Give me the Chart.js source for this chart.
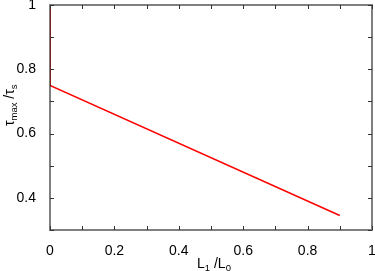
<!DOCTYPE html>
<html>
<head>
<meta charset="utf-8">
<script src="https://cdn.jsdelivr.net/npm/chart.js@4/dist/chart.umd.min.js"></script>
<style>
  html, body { margin: 0; padding: 0; background: #fff; }
  #chart { display: block; }
</style>
</head>
<body>
<canvas id="chart" width="375" height="271"></canvas>
<script>
// data
var ratio_L = [0, 0, 0.9];          // L1 / L0
var ratio_tau = [1, 0.75, 0.345];   // tau_max / tau_s
var x_ticks = [0, 0.2, 0.4, 0.6, 0.8, 1];
var y_ticks = [0.4, 0.6, 0.8, 1];
var x_minor = [0, 0.1, 0.2, 0.3, 0.4, 0.5, 0.6, 0.7, 0.8, 0.9, 1];
var y_minor = [0.3, 0.4, 0.5, 0.6, 0.7, 0.8, 0.9, 1];

var FONT = "'Liberation Sans', Arial, Helvetica, sans-serif";

// frame + inward ticks + axis titles with subscripts
const framePlugin = {
  id: "frame",
  afterDatasetsDraw(chart) {
    const c = chart.ctx;
    const a = chart.chartArea;
    const xs = chart.scales.x, ys = chart.scales.y;
    c.save();
    c.strokeStyle = "rgba(0,0,0,0.5)";
    c.lineWidth = 2;
    c.strokeRect(a.left, a.top, a.right - a.left, a.bottom - a.top);

    c.lineWidth = 1;
    c.strokeStyle = "#333";
    x_minor.forEach(function (v) {
      let px = Math.round(xs.getPixelForValue(v)) + 0.5;
      c.beginPath();
      c.moveTo(px, a.bottom); c.lineTo(px, a.bottom - 4);
      c.moveTo(px, a.top); c.lineTo(px, a.top + 4);
      c.stroke();
    });
    y_minor.forEach(function (v) {
      let py = Math.round(ys.getPixelForValue(v)) + 0.5;
      c.beginPath();
      c.moveTo(a.left, py); c.lineTo(a.left + 4, py);
      c.moveTo(a.right, py); c.lineTo(a.right - 4, py);
      c.stroke();
    });

    // axis titles
    c.fillStyle = "#000";
    c.textBaseline = "alphabetic";
    c.textAlign = "left";
    // x: L1 /L0
    let x0 = 197, y0 = 268;
    c.font = "14px " + FONT;
    c.fillText("L", x0, y0); x0 += c.measureText("L").width;
    c.font = "9.5px " + FONT;
    c.fillText("1", x0, y0 + 3); x0 += c.measureText("1").width;
    c.font = "14px " + FONT;
    c.fillText(" /L", x0, y0); x0 += c.measureText(" /L").width;
    c.font = "9.5px " + FONT;
    c.fillText("0", x0, y0 + 3);

    // y: tau_max /tau_s (rotated)
    c.translate(14, 126);
    c.rotate(-Math.PI / 2);
    let t = 0;
    c.font = "14px " + FONT;
    c.fillText("τ", t, 0); t += c.measureText("τ").width;
    c.font = "9.5px " + FONT;
    c.fillText("max", t, 3); t += c.measureText("max").width;
    c.font = "14px " + FONT;
    c.fillText(" /τ", t, 0); t += c.measureText(" /τ").width;
    c.font = "9.5px " + FONT;
    c.fillText("s", t, 3);
    c.restore();
  },
};

const ctx = document.getElementById("chart").getContext("2d");

const config = {
  type: "scatter",
  data: {
    datasets: [
      {
        data: ratio_L.map((v, i) => ({ x: v, y: ratio_tau[i] })),
        showLine: true,
        borderColor: "#ff0000",
        borderWidth: 1.5,
        pointRadius: 0,
        tension: 0,
      },
    ],
  },
  options: {
    responsive: false,
    animation: false,
    layout: { padding: { left: 0, right: 3, top: 5, bottom: 0 } },
    plugins: {
      legend: { display: false },
      tooltip: { enabled: false },
    },
    scales: {
      x: {
        type: "linear",
        min: 0,
        max: 1,
        grid: { display: false },
        border: { display: false },
        afterBuildTicks: (s) => { s.ticks = x_ticks.map((v) => ({ value: v })); },
        afterFit: (s) => { s.height = 41; s.paddingLeft = 0; s.paddingRight = 0; },
        ticks: {
          color: "#000",
          padding: 5,
          maxRotation: 0,
          font: { family: FONT, size: 14 },
          callback: (v) => String(v),
        },
      },
      y: {
        type: "linear",
        min: 0.3,
        max: 1,
        grid: { display: false },
        border: { display: false },
        afterBuildTicks: (s) => { s.ticks = y_ticks.map((v) => ({ value: v })); },
        afterFit: (s) => { s.width = 50; s.paddingTop = 0; s.paddingBottom = 0; },
        ticks: {
          color: "#000",
          padding: 6,
          font: { family: FONT, size: 14 },
          callback: (v) => String(v),
        },
      },
    },
  },
  plugins: [framePlugin],
};

var chart = new Chart(ctx, config);
</script>
</body>
</html>
